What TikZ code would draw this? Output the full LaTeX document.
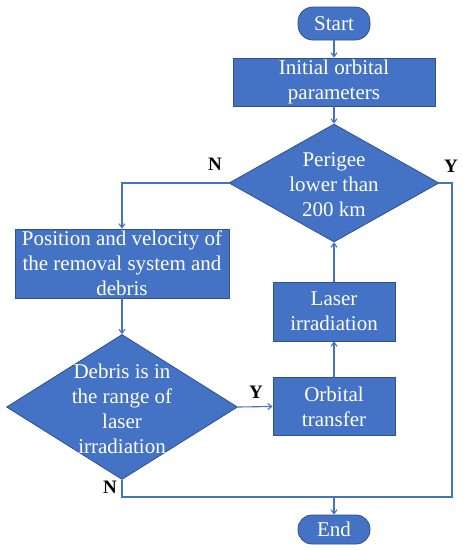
\documentclass[tikz,border=0pt]{standalone}
\usepackage{fontspec}
\setmainfont{Liberation Serif}
\usetikzlibrary{shapes.geometric,arrows.meta}
\definecolor{fillblue}{HTML}{4472C4}
\definecolor{edgeblue}{HTML}{2F528F}
\tikzset{
  box/.style={draw=edgeblue,line width=0.8pt,fill=fillblue,text=white,inner sep=0pt,align=center,font=\fontsize{21}{25}\selectfont},
  term/.style={box,rounded corners=15pt},
  decision/.style={draw=edgeblue,line width=0.8pt,fill=fillblue,diamond,inner sep=0pt},
  dtext/.style={text=white,align=center,inner sep=0pt,font=\fontsize{21}{25}\selectfont},
  lab/.style={font=\fontsize{19}{19}\selectfont\bfseries,text=black,inner sep=0pt},
  conn/.style={draw=fillblue,line width=1.1pt},
  arr/.style={conn,-{Straight Barb[length=4pt,width=6pt]}}
}
\begin{document}
\begin{tikzpicture}[x=1pt,y=-1pt]
\useasboundingbox (0,0) rectangle (463,550);
\node[term,minimum width=72pt,minimum height=33pt] (start) at (334,23.5) {Start};
\node[box,minimum width=202pt,minimum height=48pt] (init) at (334,82) {Initial orbital\\parameters};
\node[decision,minimum width=210pt,minimum height=118pt,aspect=1.78] (d1) at (334,183) {};
\node[dtext] (d1t) at (334,185) {Perigee\\lower than\\200 km};
\node[box,minimum width=214pt,minimum height=69pt] (pos) at (122,263.5) {Position and velocity of\\the removal system and\\debris};
\node[decision,minimum width=231pt,minimum height=145pt,aspect=1.59] (d2) at (122,407) {};
\node[dtext] (d2t) at (122,409) {Debris is in\\the range of\\laser\\irradiation};
\node[box,minimum width=122pt,minimum height=59pt] (laser) at (334,311.5) {Laser\\irradiation};
\node[box,minimum width=122pt,minimum height=58pt] (orb) at (334,406.5) {Orbital\\transfer};
\node[term,minimum width=72pt,minimum height=29pt,rounded corners=14pt] (end) at (334,529.5) {End};
\coordinate (yr) at (452,497);
\coordinate (nl) at (122,497);
\coordinate (jn) at (334,497);
\draw[arr] (start) -- (init);
\draw[arr] (init) -- (d1.north);
\draw[arr] (d1.west) -| (pos.north);
\draw[arr] (pos) -- (d2.north);
\draw[arr] (d2.east) -- (orb.west);
\draw[arr] (orb) -- (laser);
\draw[arr] (laser) -- (d1.south);
\draw[conn] (d1.east) -| (yr) -- (nl) -- (d2.south);
\draw[arr] (jn) -- (end.north);
\node[lab] (n1) at (215,164) {N};
\node[lab] (y1) at (451,166) {Y};
\node[lab] (y2) at (256,392) {Y};
\node[lab] (n2) at (110,487) {N};
\end{tikzpicture}
\end{document}
